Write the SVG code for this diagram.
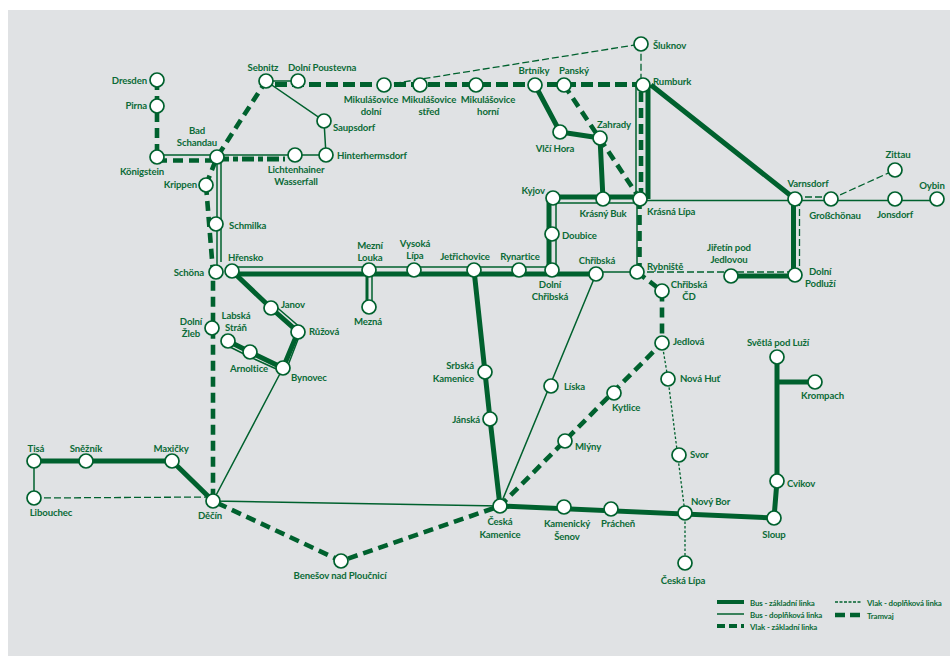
<svg xmlns="http://www.w3.org/2000/svg" width="950" height="656" viewBox="0 0 950 656">
<style>
text{font-family:"Lato","Liberation Sans",sans-serif;font-weight:700;font-size:9.6px;letter-spacing:-.12px;fill:#0b6b37;text-anchor:middle}
.s{text-anchor:start}.e{text-anchor:end}
.l{font-size:7.9px}
.n{fill:#fff;stroke:#00612e;stroke-width:1.7}
#connectors path,#legend path{fill:none;stroke:#00612e}
.bz{stroke-width:5}
.bd{stroke-width:1.5}
.vz{stroke-width:4.6;stroke-dasharray:10 6}
.vd{stroke-width:1.3;stroke-dasharray:7 3}
.vs{stroke-width:1.3;stroke-dasharray:2.5 2}
.tr{stroke-width:4.8;stroke-dasharray:12 5}
</style>
<rect width="950" height="656" fill="#fff"/>
<rect x="8" y="10" width="942" height="646" fill="#e0e2e4"/>
<g id="connectors">
<path class="bz" d="M34 461H172L213 501"/>
<path class="bd" d="M34 461V498"/>
<path class="vd" d="M34 498L213 497"/>
<path class="vz" d="M157 80V157M157 160.500H217"/>
<path class="bd" d="M157 155H217M217 155H295H326L324 121L266 81L298 81"/>
<path class="tr" d="M217 159H285" style="stroke-dasharray:12 4 5 4"/>
<path class="vz" d="M206 185L217 157L266 81"/>
<path class="vz" d="M206 185L213 272V501"/>
<path class="bd" d="M217 157V272M221 160V262"/>
<path class="tr" d="M275 84.500H643"/>
<path class="vd" d="M384 85L641 44V85"/>
<path class="vz" d="M564 85L640 199"/>
<path class="bz" d="M535 85L560 132L600 138L603 199"/>
<path class="bz" d="M553 197H640M549 198V271"/>
<path class="bd" d="M553 203H640M556 198V270"/>
<path class="bz" d="M648 85V199M651 85L795 199"/>
<path class="bd" d="M636 85V199M637 199V272M640 200.500H937"/>
<path class="vz" d="M641 92V199M639.500 199V272"/>
<path class="bd" d="M232 267H552"/>
<path class="bz" d="M232 274H596"/>
<path class="bd" d="M596 272H637"/>
<path class="bd" d="M372 270V307"/>
<path class="bz" d="M367 270V307" style="stroke-width:3"/>
<path class="vd" d="M637 272H795"/>
<path class="bz" d="M731 276H795"/>
<path class="bz" d="M793.500 199V275"/>
<path class="vd" d="M799.500 199V275M795 197H831M831 199L895 170"/>
<path class="vz" d="M637 272L662 291V343L500 506L341 561L213 501"/>
<path class="vs" d="M662 343L668 379L685 513V563"/>
<path class="bz" d="M474 270L490 419L500 506L774 518"/>
<path class="bd" d="M596 274L500 506L213 501L283 368"/>
<path class="bz" d="M232 271L271 308L298 332L283 368L250 352L228 341"/>
<path class="bd" d="M273 304L302 329L287 368M250 357L228 346M250 357L283 372"/>
<path class="bz" d="M774 518L777 481V357M777 382H815"/>
</g>
<g id="nodes">
<g id="n1"><circle class="n" cx="157" cy="80" r="7"/><text class="e" x="147" y="84">Dresden</text></g>
<g id="n2"><circle class="n" cx="157" cy="106" r="7"/><text class="e" x="147" y="109">Pirna</text></g>
<g id="n3"><circle class="n" cx="157" cy="157" r="7"/><text x="142" y="175">Königstein</text></g>
<g id="n4"><circle class="n" cx="217" cy="157" r="7"/><text x="197" y="134">Bad</text><text x="197" y="146">Schandau</text></g>
<g id="n5"><circle class="n" cx="206" cy="185" r="7"/><text class="e" x="197" y="188">Krippen</text></g>
<g id="n6"><circle class="n" cx="216" cy="224" r="7"/><text class="s" x="229" y="229">Schmilka</text></g>
<g id="n7"><circle class="n" cx="216" cy="272" r="7"/><text class="e" x="204" y="276">Schöna</text></g>
<g id="n8"><circle class="n" cx="232" cy="271" r="7"/><text class="s" x="228" y="261">Hřensko</text></g>
<g id="n9"><circle class="n" cx="266" cy="81" r="7"/><text x="263" y="71">Sebnitz</text></g>
<g id="n10"><circle class="n" cx="298" cy="81" r="7"/><text class="s" x="288" y="71">Dolní Poustevna</text></g>
<g id="n11"><circle class="n" cx="384" cy="85" r="7"/><text x="371" y="103">Mikulášovice</text><text x="371" y="115">dolní</text></g>
<g id="n12"><circle class="n" cx="420" cy="85" r="7"/><text x="429" y="103">Mikulášovice</text><text x="429" y="115">střed</text></g>
<g id="n13"><circle class="n" cx="476" cy="85" r="7"/><text x="488" y="103">Mikulášovice</text><text x="488" y="115">horní</text></g>
<g id="n14"><circle class="n" cx="535" cy="85" r="7"/><text x="534" y="74">Brtníky</text></g>
<g id="n15"><circle class="n" cx="564" cy="85" r="7"/><text x="574" y="74">Panský</text></g>
<g id="n16"><circle class="n" cx="643" cy="85" r="7"/><text class="s" x="653" y="85">Rumburk</text></g>
<g id="n17"><circle class="n" cx="641" cy="44" r="7"/><text class="s" x="653" y="49">Šluknov</text></g>
<g id="n18"><circle class="n" cx="324" cy="121" r="7"/><text class="s" x="333" y="131">Saupsdorf</text></g>
<g id="n19"><circle class="n" cx="326" cy="155" r="7"/><text class="s" x="337" y="159">Hinterhermsdorf</text></g>
<g id="n20"><circle class="n" cx="295" cy="155" r="7"/><text x="296" y="173">Lichtenhainer</text><text x="296" y="185">Wasserfall</text></g>
<g id="n21"><circle class="n" cx="560" cy="132" r="7"/><text x="555" y="152">Vlčí Hora</text></g>
<g id="n22"><circle class="n" cx="600" cy="138" r="7"/><text x="614" y="128">Zahrady</text></g>
<g id="n23"><circle class="n" cx="553" cy="198" r="7"/><text class="e" x="545" y="194">Kyjov</text></g>
<g id="n24"><circle class="n" cx="603" cy="199" r="7"/><text x="603" y="217">Krásný Buk</text></g>
<g id="n25"><circle class="n" cx="640" cy="199" r="7"/><text class="s" x="647" y="215">Krásná Lípa</text></g>
<g id="n26"><circle class="n" cx="552" cy="234" r="7"/><text class="s" x="562" y="239">Doubice</text></g>
<g id="n27"><circle class="n" cx="552" cy="270" r="7"/><text x="550" y="288">Dolní</text><text x="550" y="300">Chřibská</text></g>
<g id="n28"><circle class="n" cx="519" cy="270" r="7"/><text x="520" y="260">Rynartice</text></g>
<g id="n29"><circle class="n" cx="474" cy="270" r="7"/><text x="465" y="260">Jetřichovice</text></g>
<g id="n30"><circle class="n" cx="414" cy="270" r="7"/><text x="415" y="247">Vysoká</text><text x="415" y="259">Lípa</text></g>
<g id="n31"><circle class="n" cx="369" cy="270" r="7"/><text x="370" y="249">Mezní</text><text x="370" y="261">Louka</text></g>
<g id="n32"><circle class="n" cx="369" cy="307" r="7"/><text x="368" y="325">Mezná</text></g>
<g id="n33"><circle class="n" cx="596" cy="274" r="7"/><text x="597" y="264">Chřibská</text></g>
<g id="n34"><circle class="n" cx="637" cy="272" r="7"/><text class="s" x="647" y="270">Rybniště</text></g>
<g id="n35"><circle class="n" cx="662" cy="291" r="7"/><text x="689" y="288">Chřibská</text><text x="689" y="300">ČD</text></g>
<g id="n36"><circle class="n" cx="662" cy="343" r="7"/><text class="s" x="673" y="345">Jedlová</text></g>
<g id="n37"><circle class="n" cx="668" cy="379" r="7"/><text class="s" x="680" y="382">Nová Huť</text></g>
<g id="n38"><circle class="n" cx="679" cy="455" r="7"/><text class="s" x="690" y="458">Svor</text></g>
<g id="n39"><circle class="n" cx="685" cy="513" r="7"/><text class="s" x="691" y="505">Nový Bor</text></g>
<g id="n40"><circle class="n" cx="685" cy="563" r="7"/><text x="683" y="584">Česká Lípa</text></g>
<g id="n41"><circle class="n" cx="731" cy="276" r="7"/><text x="729" y="251">Jiřetín pod</text><text x="729" y="263">Jedlovou</text></g>
<g id="n42"><circle class="n" cx="795" cy="275" r="7"/><text class="s" x="809" y="275">Dolní</text><text class="s" x="805" y="287">Podluží</text></g>
<g id="n43"><circle class="n" cx="795" cy="199" r="7"/><text x="808" y="187">Varnsdorf</text></g>
<g id="n44"><circle class="n" cx="831" cy="199" r="7"/><text x="835" y="219">Großchönau</text></g>
<g id="n45"><circle class="n" cx="895" cy="199" r="7"/><text x="895" y="218">Jonsdorf</text></g>
<g id="n46"><circle class="n" cx="937" cy="199" r="7"/><text x="932" y="189">Oybin</text></g>
<g id="n47"><circle class="n" cx="895" cy="170" r="7"/><text x="898" y="158">Zittau</text></g>
<g id="n48"><circle class="n" cx="271" cy="308" r="7"/><text class="s" x="281" y="308">Janov</text></g>
<g id="n49"><circle class="n" cx="298" cy="332" r="7"/><text class="s" x="309" y="335">Růžová</text></g>
<g id="n50"><circle class="n" cx="283" cy="368" r="7"/><text class="s" x="291" y="381">Bynovec</text></g>
<g id="n51"><circle class="n" cx="250" cy="352" r="7"/><text x="249" y="372">Arnoltice</text></g>
<g id="n52"><circle class="n" cx="228" cy="341" r="7"/><text x="236" y="319">Labská</text><text x="236" y="331">Stráň</text></g>
<g id="n53"><circle class="n" cx="212" cy="328" r="7"/><text x="191" y="325">Dolní</text><text x="191" y="337">Žleb</text></g>
<g id="n54"><circle class="n" cx="213" cy="501" r="7"/><text x="210" y="519">Děčín</text></g>
<g id="n55"><circle class="n" cx="172" cy="461" r="7"/><text x="171" y="452">Maxičky</text></g>
<g id="n56"><circle class="n" cx="86" cy="461" r="7"/><text x="86" y="452">Sněžník</text></g>
<g id="n57"><circle class="n" cx="34" cy="461" r="7"/><text x="36" y="452">Tisá</text></g>
<g id="n58"><circle class="n" cx="34" cy="498" r="7"/><text x="51" y="516">Libouchec</text></g>
<g id="n59"><circle class="n" cx="341" cy="561" r="7"/><text x="340" y="579">Benešov nad Ploučnicí</text></g>
<g id="n60"><circle class="n" cx="500" cy="506" r="7"/><text x="500" y="525">Česká</text><text x="500" y="538">Kamenice</text></g>
<g id="n61"><circle class="n" cx="564" cy="507" r="7"/><text x="567" y="527">Kamenický</text><text x="567" y="540">Šenov</text></g>
<g id="n62"><circle class="n" cx="611" cy="509" r="7"/><text x="618" y="527">Prácheň</text></g>
<g id="n63"><circle class="n" cx="774" cy="518" r="7"/><text x="774" y="538">Sloup</text></g>
<g id="n64"><circle class="n" cx="777" cy="481" r="7"/><text class="s" x="787" y="487">Cvikov</text></g>
<g id="n65"><circle class="n" cx="815" cy="382" r="7"/><text class="s" x="801" y="399">Krompach</text></g>
<g id="n66"><circle class="n" cx="777" cy="357" r="7"/><text x="778" y="346">Světlá pod Luží</text></g>
<g id="n67"><circle class="n" cx="485" cy="372" r="7"/><text class="e" x="474" y="369">Srbská</text><text class="e" x="474" y="382">Kamenice</text></g>
<g id="n68"><circle class="n" cx="490" cy="419" r="7"/><text class="e" x="480" y="423">Jánská</text></g>
<g id="n69"><circle class="n" cx="551" cy="386" r="7"/><text class="s" x="564" y="390">Líska</text></g>
<g id="n70"><circle class="n" cx="565" cy="441" r="7"/><text class="s" x="575" y="450">Mlýny</text></g>
<g id="n71"><circle class="n" cx="614" cy="393" r="7"/><text class="s" x="612" y="411">Kytlice</text></g>
</g>
<g id="legend">
<path d="M717 602H744" stroke-width="4"/>
<path d="M717 614H744" stroke-width="1.5"/>
<path d="M717 626H744" stroke-width="4" stroke-dasharray="8 4"/>
<path d="M835 602H862" stroke-width="1.3" stroke-dasharray="3 1.5"/>
<path d="M835 615H862" stroke-width="4.6" stroke-dasharray="10 5"/>
<text class="s l" x="750" y="606">Bus - základní linka</text>
<text class="s l" x="750" y="618">Bus - doplňková linka</text>
<text class="s l" x="750" y="630">Vlak - základní linka</text>
<text class="s l" x="867" y="606">Vlak - doplňková linka</text>
<text class="s l" x="867" y="619">Tramvaj</text>
</g>
</svg>
